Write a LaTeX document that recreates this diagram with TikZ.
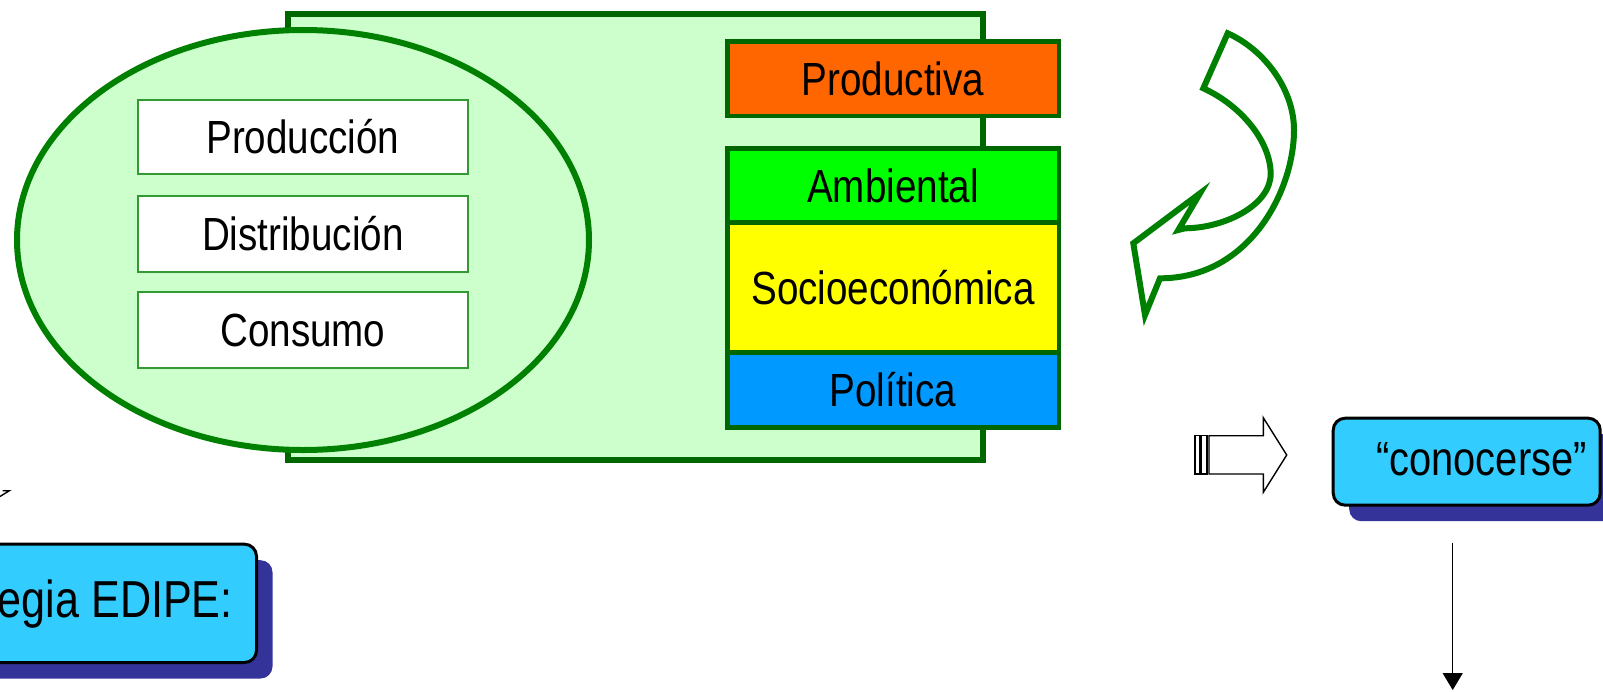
\documentclass[tikz,border=0pt]{standalone}
\usepackage{fontspec}
\setmainfont{Liberation Sans}[FakeStretch=0.83]
\usetikzlibrary{arrows.meta,shadows}
\definecolor{lgreen}{HTML}{CCFFCC}
\definecolor{dgreen}{HTML}{006600}
\definecolor{mgreen}{HTML}{008000}
\definecolor{bgreen}{HTML}{339933}
\definecolor{corange}{HTML}{FF6600}
\definecolor{cgreen}{HTML}{00FF00}
\definecolor{cyellow}{HTML}{FFFF00}
\definecolor{cblue}{HTML}{0099FF}
\definecolor{ccyan}{HTML}{33CCFF}
\definecolor{shblue}{HTML}{333399}
\begin{document}
\begin{tikzpicture}[x=1pt,y=-1pt,
  lbl/.style={inner sep=0pt, text height=33.3pt, text depth=0pt, font=\fontsize{46.5}{50}\selectfont},
  wbox/.style={lbl, draw=bgreen, line width=2pt, fill=white, minimum width=330.3pt},
  cbox/.style={lbl, draw=dgreen, line width=4.5pt, minimum width=331.5pt},
  rbox/.style={draw=black, line width=3pt, fill=ccyan, rounded corners=12pt,
     drop shadow={shadow xshift=16pt, shadow yshift=-16pt, fill=shblue, opacity=1}},
  bigtxt/.style={inner sep=0pt, text height=37pt, text depth=0pt},
  garrow/.style={draw=mgreen, line width=6pt, line join=miter},
  thin/.style={draw=black, line width=1.4pt}
]
\useasboundingbox (0,0) rectangle (1603,691);
\clip (0,0) rectangle (1603,691);

% big rectangle and ellipse
\draw[draw=dgreen, line width=6pt, fill=lgreen] (288,14) rectangle (982.8,459.7);
\draw[draw=mgreen, line width=6pt, fill=lgreen] (303,240) ellipse [x radius=286, y radius=210];

% white boxes
\node[wbox, minimum height=74pt] (prod) at (302.85,137) {Producción};
\node[wbox, minimum height=75.7pt] (dist) at (302.85,234.2) {Distribución};
\node[wbox, minimum height=75.6pt] (cons) at (302.85,330.2) {Consumo};

% coloured boxes
\node[cbox, fill=corange, minimum height=74.5pt] (productiva) at (893,78.8) {Productiva};
\node[cbox, fill=cgreen, minimum height=74.5pt] (ambiental) at (893,185.5) {Ambiental};
\node[cbox, fill=cyellow, minimum height=129.6pt] (socio) at (893,287.5) {Socioeconómica};
\node[cbox, fill=cblue, minimum height=75pt] (politica) at (893,389.8) {Política};

% curved arrow
\draw[garrow] (1227.7,33.3) .. controls (1265,50) and (1294,90) .. (1294,130)
  .. controls (1294,190) and (1250,278.3) .. (1160,278.3)
  -- (1145,315) -- (1133.3,243.3) -- (1200,193.3) -- (1178.3,230) -- (1185,228.3)
  .. controls (1225,228) and (1271,205) .. (1270.7,173.3)
  .. controls (1270,140) and (1240,105) .. (1203.3,88.3) -- cycle;

% striped block arrow
\draw[thin, fill=white] (1195,435.7) rectangle (1200,474);
\draw[thin, fill=white] (1201.5,435.7) rectangle (1207,474);
\draw[thin, fill=white] (1209,435.7) -- (1263.3,435.7) -- (1263.3,417.7) -- (1286.7,455)
  -- (1263.3,492.3) -- (1263.3,474) -- (1209,474) -- cycle;

% partial arrow tip at left edge
\draw[thin] (2.5,490.7) -- (9.3,490.7) -- (0,496.5);

% conocerse box
\node[rbox, minimum width=267pt, minimum height=87pt] (conoc) at (1466.7,461.7) {};
\node[bigtxt, font=\fontsize{48}{52}\selectfont] (conoctxt) at (1481.5,456.5) {“conocerse”};

% EDIPE box
\node[rbox, minimum width=405pt, minimum height=118.3pt] (edipe) at (54,603.35) {};
\node[bigtxt, font=\fontsize{52}{56}\selectfont, anchor=east] (edipetxt) at (233,599) {egia EDIPE:};

% down arrow
\coordinate (dtop) at (1452.7,542.7);
\coordinate (dbot) at (1452.7,690);
\draw[thin, -{Triangle[width=20pt,length=17pt]}] (dtop) -- (dbot);
\end{tikzpicture}
\end{document}
